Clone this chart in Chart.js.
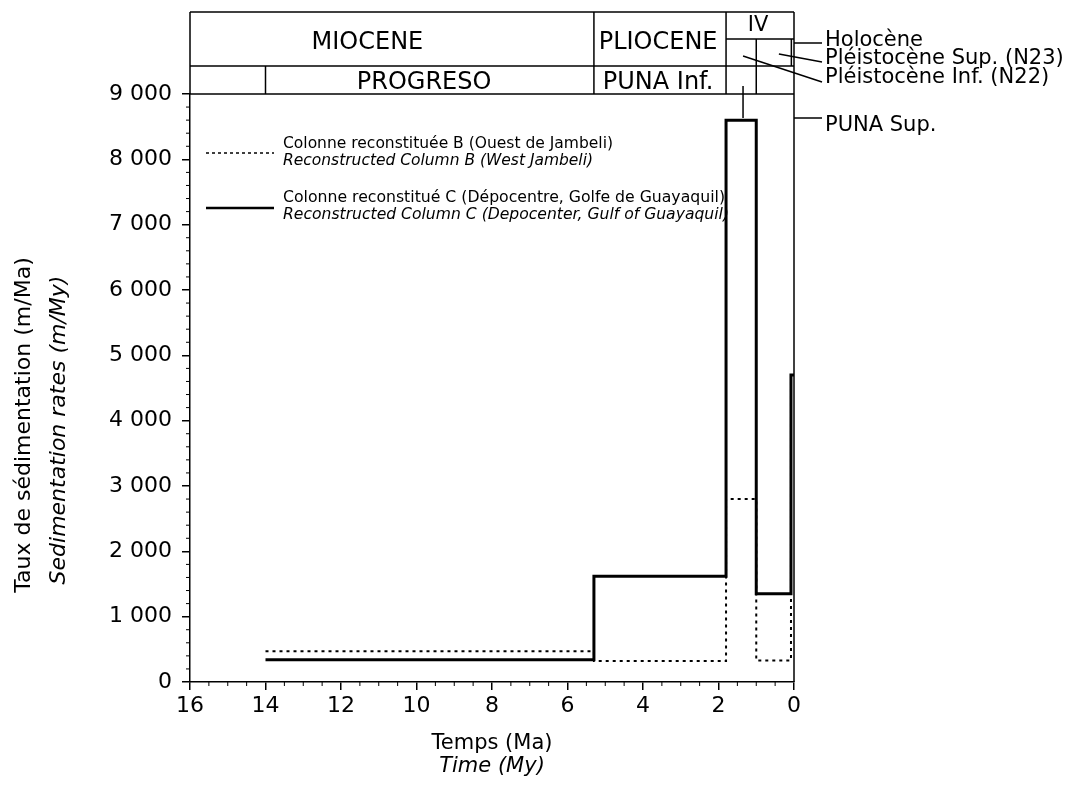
<!DOCTYPE html>
<html>
<head>
<meta charset="utf-8">
<title>Taux de sédimentation</title>
<script src="https://cdn.jsdelivr.net/npm/chart.js@4.4.1/dist/chart.umd.min.js"></script>
<style>
  html, body { margin: 0; padding: 0; background: #fff; }
</style>
</head>
<body>
<canvas id="chart" width="1088" height="787"></canvas>
<script>
// âges (Ma) où commence chaque palier, le dernier ferme la courbe
const ages = [14, 5.3, 1.8, 1.0, 0.08, 0];
const rateColumnB = [470, 320, 2800, 330, 4700, 4700];
const rateColumnC = [340, 1620, 8600, 1350, 4700, 4700];
const xTicks = [16, 14, 12, 10, 8, 6, 4, 2, 0];
const yTicks = [0, 1000, 2000, 3000, 4000, 5000, 6000, 7000, 8000, 9000];

// échelle stratigraphique au-dessus du graphique
const epochNames = ['MIOCENE', 'PLIOCENE', 'IV'];
const epochLabelAt = [11.3, 3.6, 0.95];
const formationNames = ['PROGRESO', 'PUNA Inf.'];
const formationLabelAt = [9.8, 3.6];
const stageNames = ['Holocène', 'Pléistocène Sup. (N23)', 'Pléistocène Inf. (N22)', 'PUNA Sup.'];

const FONT = '"DejaVu Sans", "Noto Sans", sans-serif';
const fmt = v => String(v).replace(/\B(?=(\d{3})+(?!\d))/g, ' ');

// Dessine le cadre stratigraphique, les petites graduations, la légende et les titres
const decorations = {
  id: 'decorations',
  afterDraw(chart) {
    const { ctx, chartArea: a, scales: { x, y } } = chart;
    const px = v => x.getPixelForValue(v);
    const top = a.top - 82, mid = a.top - 28, sub = a.top - 55;
    const line = (x1, y1, x2, y2) => { ctx.beginPath(); ctx.moveTo(x1, y1); ctx.lineTo(x2, y2); ctx.stroke(); };

    ctx.save();
    ctx.strokeStyle = '#000';
    ctx.fillStyle = '#000';
    ctx.lineWidth = 1.5;

    // cadre
    line(a.left, top, a.right, top);
    line(a.left, top, a.left, a.top);
    line(a.right, top, a.right, a.bottom);
    line(a.left, mid, a.right, mid);
    line(a.left, a.top, a.right, a.top);
    line(px(5.3), top, px(5.3), a.top);
    line(px(1.8), top, px(1.8), a.top);
    line(px(14), mid, px(14), a.top);
    line(px(1.8), sub, a.right, sub);
    line(px(1.0), sub, px(1.0), a.top);
    line(px(0.07), sub, px(0.07), mid);

    ctx.textAlign = 'center';
    ctx.textBaseline = 'alphabetic';
    epochNames.forEach((n, i) => {
      if (n === 'IV') {
        ctx.font = '21px ' + FONT;
        ctx.fillText(n, px(epochLabelAt[i]), top + 19);
      } else {
        ctx.font = '24px ' + FONT;
        ctx.fillText(n, px(epochLabelAt[i]), mid - 17);
      }
    });
    ctx.font = '24px ' + FONT;
    formationNames.forEach((n, i) => ctx.fillText(n, px(formationLabelAt[i]), a.top - 5));

    // renvois vers les étages
    const lx = a.right + 28;
    line(a.right, top + 31, lx, top + 31);
    line(px(0.4), top + 42, lx, top + 50);
    line(px(1.35), top + 44, lx, top + 70);
    line(px(1.35), top + 74, px(1.35), a.top + 24);
    line(a.right, a.top + 24, lx, a.top + 24);
    ctx.textAlign = 'left';
    ctx.font = '21px ' + FONT;
    const stageBase = [top + 34, top + 52, top + 71, a.top + 37];
    stageNames.forEach((n, i) => ctx.fillText(n, lx + 3, stageBase[i], 258));

    // petites graduations
    ctx.lineWidth = 1;
    for (let v = 0; v <= 9000; v += 200) {
      if (v % 1000) line(a.left - 4, y.getPixelForValue(v), a.left, y.getPixelForValue(v));
    }
    for (let v = 0; v <= 16; v += 0.5) {
      if (v % 2) line(px(v), a.bottom, px(v), a.bottom + 4);
    }

    // légende
    ctx.lineWidth = 1.5;
    ctx.setLineDash([3, 3]);
    line(a.left + 16, a.top + 59, a.left + 84, a.top + 59);
    ctx.setLineDash([]);
    ctx.lineWidth = 2.5;
    line(a.left + 16, a.top + 114, a.left + 84, a.top + 114);
    ctx.font = '16px ' + FONT;
    ctx.fillText('Colonne reconstituée B (Ouest de Jambeli)', a.left + 93, a.top + 54, 330);
    ctx.fillText('Colonne reconstitué C (Dépocentre, Golfe de Guayaquil)', a.left + 93, a.top + 108, 442);
    ctx.font = 'italic 16px ' + FONT;
    ctx.fillText('Reconstructed Column B (West Jambeli)', a.left + 93, a.top + 71, 310);
    ctx.fillText('Reconstructed Column C (Depocenter, Gulf of Guayaquil)', a.left + 93, a.top + 125, 446);

    // titres des axes
    ctx.textAlign = 'center';
    ctx.textBaseline = 'middle';
    ctx.font = '21px ' + FONT;
    ctx.fillText('Temps (Ma)', (a.left + a.right) / 2, a.bottom + 62);
    ctx.font = 'italic 21px ' + FONT;
    ctx.fillText('Time (My)', (a.left + a.right) / 2, a.bottom + 85);
    ctx.save();
    ctx.translate(24, 425);
    ctx.rotate(-Math.PI / 2);
    ctx.font = '22px ' + FONT;
    ctx.fillText('Taux de sédimentation (m/Ma)', 0, 0, 370);
    ctx.restore();
    ctx.save();
    ctx.translate(59, 430);
    ctx.rotate(-Math.PI / 2);
    ctx.font = 'italic 22px ' + FONT;
    ctx.fillText('Sedimentation rates (m/My)', 0, 0, 340);
    ctx.restore();

    ctx.restore();
  }
};

new Chart(document.getElementById('chart'), {
  type: 'line',
  data: {
    datasets: [
      {
        label: 'Colonne reconstitué C',
        data: ages.map((a, i) => ({ x: a, y: rateColumnC[i] })),
        stepped: true,
        borderColor: '#000',
        borderWidth: 3,
        pointRadius: 0,
        fill: false
      },
      {
        label: 'Colonne reconstituée B',
        data: ages.map((a, i) => ({ x: a, y: rateColumnB[i] })),
        stepped: true,
        borderColor: '#000',
        borderWidth: 2,
        borderDash: [3, 4],
        pointRadius: 0,
        fill: false
      }
    ]
  },
  options: {
    responsive: false,
    animation: false,
    layout: { padding: { top: 94, right: 294, left: 0, bottom: 0 } },
    plugins: { legend: { display: false }, tooltip: { enabled: false } },
    scales: {
      x: {
        type: 'linear',
        reverse: true,
        min: 0,
        max: 16,
        afterBuildTicks: s => { s.ticks = xTicks.map(v => ({ value: v })); },
        afterFit: s => { s.height = 105; },
        ticks: { color: '#000', font: { family: FONT, size: 22 }, padding: 3, maxRotation: 0 },
        grid: { drawOnChartArea: false, tickLength: 8, color: '#000', lineWidth: 1.5 },
        border: { color: '#000', width: 1.5 }
      },
      y: {
        min: 0,
        max: 9000,
        afterBuildTicks: s => { s.ticks = yTicks.map(v => ({ value: v })); },
        afterFit: s => { s.width = 190; },
        ticks: { color: '#000', font: { family: FONT, size: 22 }, padding: 10, callback: v => fmt(v) },
        grid: { drawOnChartArea: false, tickLength: 8, color: '#000', lineWidth: 1.5 },
        border: { color: '#000', width: 1.5 }
      }
    }
  },
  plugins: [decorations]
});
</script>
</body>
</html>
